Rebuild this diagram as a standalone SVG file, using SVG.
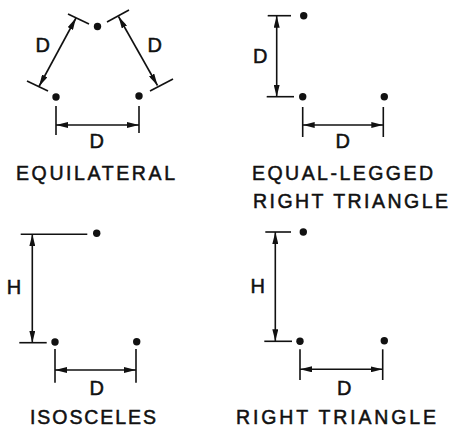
<svg xmlns="http://www.w3.org/2000/svg" width="452" height="432" viewBox="0 0 452 432">
<style>
.bg{fill:#fff}
.dot{fill:#111}
.ext{stroke:#111;stroke-width:1.6;fill:none;stroke-linecap:butt}
.dim{stroke:#111;stroke-width:1.6;fill:none;marker-start:url(#arr);marker-end:url(#arr)}
.lbl{font-family:"Liberation Sans","Arial",sans-serif;font-size:20px;fill:#111;stroke:#111;stroke-width:0.5;text-anchor:middle}
.title{font-family:"Liberation Sans","Arial",sans-serif;font-size:19.5px;fill:#111;stroke:#111;stroke-width:0.5}
</style>
<defs>
<marker id="arr" viewBox="0 0 12 6" refX="12" refY="3" markerWidth="12" markerHeight="6" markerUnits="userSpaceOnUse" orient="auto-start-reverse">
<path d="M0,0 L12,3 L0,6 z" fill="#111"/>
</marker>
</defs>
<rect class="bg" x="0" y="0" width="452" height="432"/>

<g id="equilateral">
  <g id="eq-top"><circle class="dot" cx="97.5" cy="26.5" r="3.7"/></g>
  <g id="eq-left"><circle class="dot" cx="56" cy="97" r="3.7"/></g>
  <g id="eq-right"><circle class="dot" cx="139" cy="96" r="3.7"/></g>
  <text class="title" x="16" y="180" textLength="159" lengthAdjust="spacing">EQUILATERAL</text>
</g>

<g id="equal-legged">
  <g id="el-top"><circle class="dot" cx="303.7" cy="15.7" r="3.7"/></g>
  <g id="el-left"><circle class="dot" cx="302.7" cy="96.7" r="3.7"/></g>
  <g id="el-right"><circle class="dot" cx="384.3" cy="96.7" r="3.7"/></g>
  <text class="title" x="252" y="180" textLength="181" lengthAdjust="spacing">EQUAL-LEGGED</text>
  <text class="title" x="253" y="208" textLength="195" lengthAdjust="spacing">RIGHT TRIANGLE</text>
</g>

<g id="isosceles">
  <g id="is-top"><circle class="dot" cx="96.7" cy="233.3" r="3.7"/></g>
  <g id="is-left"><circle class="dot" cx="55" cy="342" r="3.7"/></g>
  <g id="is-right"><circle class="dot" cx="136.7" cy="341.7" r="3.7"/></g>
  <text class="title" x="30" y="424" textLength="126" lengthAdjust="spacing">ISOSCELES</text>
</g>

<g id="right-triangle">
  <g id="rt-top"><circle class="dot" cx="303.3" cy="232" r="3.7"/></g>
  <g id="rt-left"><circle class="dot" cx="300" cy="341.3" r="3.7"/></g>
  <g id="rt-right"><circle class="dot" cx="384.3" cy="340.7" r="3.7"/></g>
  <text class="title" x="236" y="424" textLength="200" lengthAdjust="spacing">RIGHT TRIANGLE</text>
</g>

<g id="connectors">
  <!-- equilateral -->
  <line class="ext" x1="68" y1="14" x2="89" y2="24"/>
  <line class="ext" x1="27" y1="81" x2="48" y2="91"/>
  <line class="dim" x1="76" y1="18" x2="39" y2="86.5"/>
  <line class="ext" x1="107" y1="22" x2="129" y2="10"/>
  <line class="ext" x1="150" y1="91" x2="173" y2="79"/>
  <line class="dim" x1="118.5" y1="16.5" x2="157.5" y2="85.5"/>
  <line class="ext" x1="56" y1="106" x2="56" y2="135"/>
  <line class="ext" x1="139" y1="106" x2="139" y2="133"/>
  <line class="dim" x1="56" y1="125" x2="139" y2="125"/>
  <!-- equal-legged -->
  <line class="ext" x1="267.7" y1="15.7" x2="291" y2="15.7"/>
  <line class="ext" x1="266.7" y1="96.7" x2="294" y2="96.7"/>
  <line class="dim" x1="276.7" y1="15.7" x2="276.7" y2="96.7"/>
  <line class="ext" x1="302.7" y1="107" x2="302.7" y2="137"/>
  <line class="ext" x1="383.3" y1="107" x2="383.3" y2="137"/>
  <line class="dim" x1="302.7" y1="125" x2="383.3" y2="125"/>
  <!-- isosceles -->
  <line class="ext" x1="20.7" y1="234.3" x2="87.3" y2="234.3"/>
  <line class="ext" x1="19.3" y1="342.7" x2="46.7" y2="342.7"/>
  <line class="dim" x1="32.3" y1="234.3" x2="32.3" y2="342.7"/>
  <line class="ext" x1="55" y1="349" x2="55" y2="382.7"/>
  <line class="ext" x1="136" y1="349" x2="136" y2="382.7"/>
  <line class="dim" x1="55" y1="370" x2="136" y2="370"/>
  <!-- right triangle -->
  <line class="ext" x1="265.3" y1="232" x2="291" y2="232"/>
  <line class="ext" x1="264.3" y1="341.3" x2="292" y2="341.3"/>
  <line class="dim" x1="275.3" y1="232" x2="275.3" y2="341.3"/>
  <line class="ext" x1="300" y1="349.3" x2="300" y2="380"/>
  <line class="ext" x1="382.7" y1="349.3" x2="382.7" y2="380"/>
  <line class="dim" x1="300" y1="369.3" x2="382.7" y2="369.3"/>
</g>

<g id="labels">
  <text class="lbl" x="42.7" y="51.7">D</text>
  <text class="lbl" x="154.7" y="51.7">D</text>
  <text class="lbl" x="96.7" y="148">D</text>
  <text class="lbl" x="260.3" y="62.7">D</text>
  <text class="lbl" x="342.7" y="148">D</text>
  <text class="lbl" x="14" y="294.3">H</text>
  <text class="lbl" x="96.7" y="395.3">D</text>
  <text class="lbl" x="257.7" y="293.3">H</text>
  <text class="lbl" x="344.3" y="395.3">D</text>
</g>
</svg>
